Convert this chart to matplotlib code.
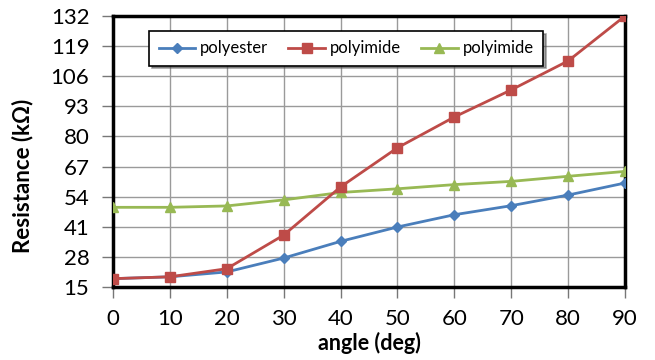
import numpy as np
import matplotlib
matplotlib.use("Agg")
import matplotlib.pyplot as plt

angle = [0, 10, 20, 30, 40, 50, 60, 70, 80, 90]
polyester = [18.6, 19.4, 21.5, 27.5, 34.7, 40.9, 46.2, 50.1, 54.7, 59.9]
polyimide_a = [18.6, 19.4, 22.9, 37.4, 58.2, 75.1, 88.4, 100.1, 112.6, 132.0]
polyimide_b = [49.4, 49.4, 50.0, 52.6, 55.8, 57.4, 59.2, 60.6, 62.8, 64.9]
yticks = [15, 28, 41, 54, 67, 80, 93, 106, 119, 132]

plt.rcParams['font.family'] = ['Lato', 'DejaVu Sans']

fig = plt.figure(figsize=(6.55, 3.6), dpi=100)
ax = fig.add_axes([113/655, 1 - 287/360, 512/655, 271/360])

ax.plot(angle, polyester, color='#4A7EBB', marker='D', markersize=5, lw=2, label='polyester', zorder=3)
ax.plot(angle, polyimide_a, color='#BE4B48', marker='s', markersize=7, lw=2, label='polyimide', zorder=4)
ax.plot(angle, polyimide_b, color='#98B954', marker='^', markersize=7, lw=2, label='polyimide', zorder=3)

ax.set_xlim(0, 90)
ax.set_ylim(15, 132)
ax.set_xticks(angle)
ax.set_yticks(yticks)
ax.grid(True, color='#9a9a9a', lw=1)
ax.set_axisbelow(True)
for s in ax.spines.values():
    s.set_linewidth(2.5)
    s.set_color('black')
ax.tick_params(axis='both', labelsize=16, direction='out', length=8, width=1, color='#777777')
ax.tick_params(axis='y', pad=9)
ax.tick_params(axis='x', pad=8)

ax.set_xlabel('angle (deg)', fontsize=15.5, fontweight='bold', labelpad=2)
ax.set_ylabel('Resistance (kΩ)', fontsize=16, fontweight='bold')
ax.yaxis.set_label_coords(-0.155, 0.41)

leg = ax.legend(loc='upper left', bbox_to_anchor=(28/512, 1 - 7/271), ncol=3, fontsize=12,
                frameon=True, fancybox=False, shadow=True, edgecolor='black',
                handlelength=2.2, handletextpad=0.3, columnspacing=1.2, borderpad=0.55)
leg.get_frame().set_linewidth(1.2)

fig.savefig('out.png', dpi=100)
